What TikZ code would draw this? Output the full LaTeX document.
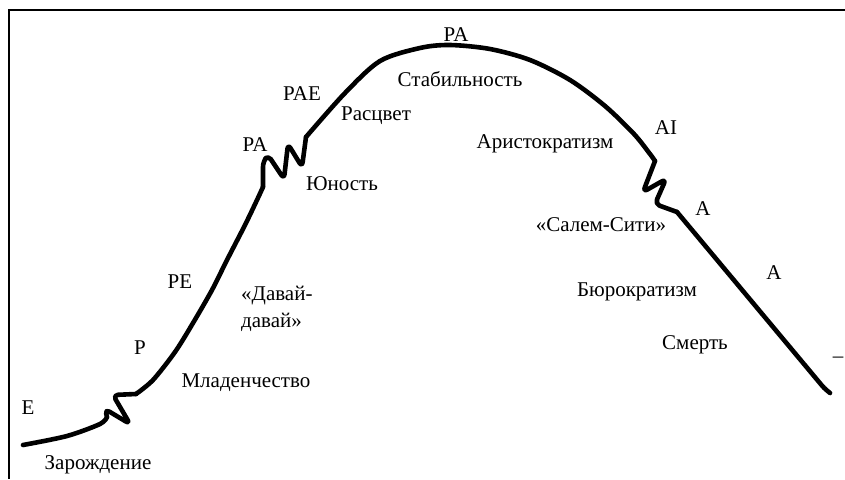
\documentclass[tikz,border=0pt]{standalone}
\usepackage{fontspec}
\setmainfont{Liberation Serif}
\newfontfamily\tnr{Liberation Serif}
\begin{document}
\begin{tikzpicture}[x=1pt,y=-1pt,
  lbl/.style={inner sep=0pt, font=\tnr\fontsize{21}{25}\selectfont},
  curve/.style={line width=4.6pt, line cap=round, line join=round},
  zig/.style={curve, rounded corners=5pt},
  frame/.style={line width=1.6pt}]
\useasboundingbox (0,0) rectangle (845,479);
\draw[frame] (845,10) -- (9,10) -- (9,479);
% smooth parts
\draw[curve] plot[smooth, tension=0.5] coordinates {(23,445) (67,436) (100,424) (107,417)};
\draw[curve] plot[smooth, tension=0.5] coordinates {(136,394) (153,380) (175,352) (193,323) (212,290)
 (227,260) (245,225) (257,200) (263,187)};
\draw[curve] plot[smooth, tension=0.5] coordinates {(306,137) (345,93) (380,61) (420,48) (450,45)
 (490,49) (530,60) (570,80) (605,106) (634,134) (650,154) (655,161)};
% zigzags
\draw[zig] (107,417) -- (105,409) -- (130,424) -- (113,395) -- (136,394);
\draw[zig] (263,187) -- (263,162) -- (268,155) -- (284,179) -- (288,144) -- (302,167) -- (306,137);
\draw[zig] (655,161) -- (643,192) -- (666,179) -- (655,204) -- (677,212);
\draw[curve, rounded corners=3pt] (677,212) -- (824,388) -- (830,393);
% labels
\node[lbl] (e) at (28,408) {E};
\node[lbl] (zar) at (98,465) {Зарождение};
\node[lbl] (p) at (140,348) {P};
\node[lbl] (mlad) at (246,383) {Младенчество};
\node[lbl] (pe) at (180,282) {PE};
\node[lbl, anchor=west] (dav1) at (241,296) {«Давай-};
\node[lbl, anchor=west] (dav2) at (241,322) {давай»};
\node[lbl] (pa1) at (255,145) {PA};
\node[lbl] (yun) at (342,184) {Юность};
\node[lbl] (pae) at (302,94) {PAE};
\node[lbl] (ras) at (376,116) {Расцвет};
\node[lbl] (pa2) at (456,35) {PA};
\node[lbl] (stab) at (460,79) {Стабильность};
\node[lbl] (arist) at (545,144) {Аристократизм};
\node[lbl] (ai) at (666,128) {AI};
\node[lbl] (salem) at (601,225) {«Салем-Сити»};
\node[lbl] (a1) at (703,209) {A};
\node[lbl] (buro) at (637,292) {Бюрократизм};
\node[lbl] (a2) at (774,273) {A};
\node[lbl] (smert) at (695,345) {Смерть};
\node[lbl] (dash) at (838,360) {–};
\end{tikzpicture}
\end{document}
